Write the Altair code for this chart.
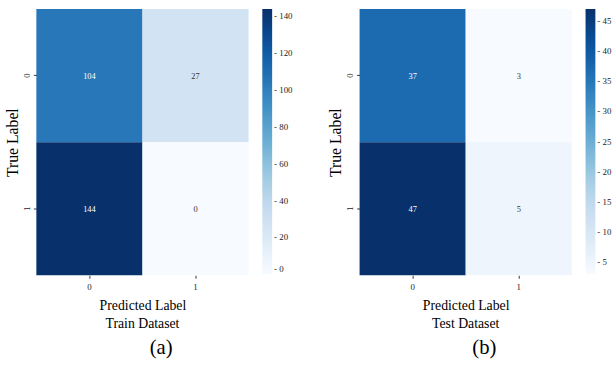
import altair as alt
import pandas as pd

# Confusion-matrix counts (rows = true label, columns = predicted label)
labels = ["0", "1"]
train_counts = [[104, 27], [144, 0]]
test_counts = [[37, 3], [47, 5]]

train_title = "Train Dataset"
test_title = "Test Dataset"
train_tag = "(a)"
test_tag = "(b)"

train_ticks = [0, 20, 40, 60, 80, 100, 120, 140]
test_ticks = [5, 10, 15, 20, 25, 30, 35, 40, 45]

# matplotlib-style "Blues" ramp
blues = ["#f7fbff", "#deebf7", "#c6dbef", "#9ecae1", "#6baed6",
         "#4292c6", "#2171b5", "#08519c", "#08306b"]

SERIF = "Liberation Serif"
W, H = 216, 271


def to_frame(counts):
    rows = []
    for i, t in enumerate(labels):
        for j, p in enumerate(labels):
            rows.append({"true": t, "pred": p, "count": counts[i][j]})
    return pd.DataFrame(rows)


def panel(counts, title, tag, ticks):
    df = to_frame(counts)
    vmin = min(min(r) for r in counts)
    vmax = max(max(r) for r in counts)
    mid = (vmin + vmax) / 2
    base = alt.Chart(df)
    heat = base.mark_rect().encode(
        x=alt.X("pred:N", sort=labels,
                axis=alt.Axis(title="Predicted Label", labelAngle=0, domain=False,
                              tickSize=3, tickColor="#333", labelFont=SERIF,
                              labelFontSize=9, labelColor="#222", titleFont=SERIF,
                              titleFontSize=14, titleFontWeight="normal",
                              titleColor="#000", titlePadding=8, labelPadding=4)),
        y=alt.Y("true:N", sort=labels,
                axis=alt.Axis(title="True Label", labelAngle=-90, domain=False,
                              tickSize=3, tickColor="#333", labelFont=SERIF,
                              labelFontSize=9, labelColor="#222", labelAlign="center",
                              labelBaseline="bottom", titleFont=SERIF,
                              titleFontSize=16, titleFontWeight="normal",
                              titleColor="#000", titlePadding=2, labelPadding=2)),
        color=alt.Color("count:Q",
                        scale=alt.Scale(domain=[vmin, vmax], range=blues),
                        legend=alt.Legend(title=None, values=ticks,
                                          gradientLength=270, gradientThickness=10,
                                          gradientStrokeWidth=0, offset=14,
                                          labelFont=SERIF, labelFontSize=9,
                                          labelColor="#222", labelOffset=2,
                                          labelExpr="'- ' + datum.label",
                                          padding=0)),
    )
    text = base.mark_text(font=SERIF, fontSize=8.5).encode(
        x=alt.X("pred:N", sort=labels),
        y=alt.Y("true:N", sort=labels),
        text="count:Q",
        color=alt.condition(alt.datum.count > mid, alt.value("#ffffff"),
                            alt.value("#333333")),
    )
    # dataset name and panel tag below the axis title (one row each)
    caption = alt.Chart(pd.DataFrame({"name": [title], "tag": [tag]}))
    name_mark = caption.mark_text(font=SERIF, fontSize=14, color="#000").encode(
        x=alt.value(W / 2), y=alt.value(321), text="name:N"
    )
    tag_mark = caption.mark_text(font=SERIF, fontSize=21, color="#000").encode(
        x=alt.value(127), y=alt.value(345), text="tag:N"
    )
    return alt.layer(heat, text, name_mark, tag_mark).properties(width=W, height=H)


chart = alt.hconcat(
    panel(train_counts, train_title, train_tag, train_ticks),
    panel(test_counts, test_title, test_tag, test_ticks),
    spacing=36,
).resolve_scale(color="independent").properties(
    padding={"left": 5, "top": 6, "right": 4, "bottom": 0},
    background="white",
).configure_view(stroke=None).configure_axis(grid=False)

chart.save("out.html", embed_options={"renderer": "svg", "actions": False})
